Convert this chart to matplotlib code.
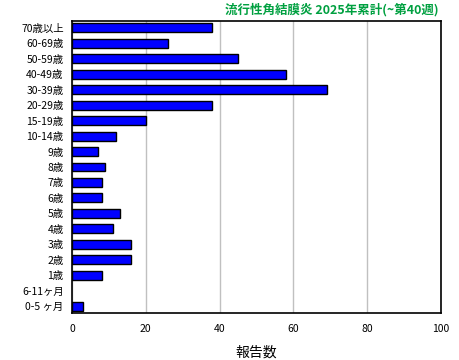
import matplotlib
matplotlib.use('Agg')
import matplotlib.pyplot as plt

plt.rcParams['font.family'] = ['Noto Sans CJK JP', 'DejaVu Sans']

ages = ['70歳以上', '60-69歳', '50-59歳', '40-49歳', '30-39歳', '20-29歳',
        '15-19歳', '10-14歳', '9歳', '8歳', '7歳', '6歳', '5歳', '4歳',
        '3歳', '2歳', '1歳', '6-11ヶ月', '0-5 ヶ月']
counts = [38, 26, 45, 58, 69, 38, 20, 12, 7, 9, 8, 8, 13, 11, 16, 16, 8, 0, 3]

# data top-down, plot bottom-up
ypos = list(range(len(ages)))[::-1]

fig = plt.figure(figsize=(4.6, 3.6), dpi=100)
ax = fig.add_axes([72/460, 1 - 313/360, (441-72)/460, (313-21)/360])

# zero counts get no bar (avoid stray edge line)
yb = [y for y, c in zip(ypos, counts) if c > 0]
cb = [c for c in counts if c > 0]
ax.barh(yb, cb, height=0.58, color='#0000FF', edgecolor='black', linewidth=1, zorder=3)
ax.set_xlim(0, 100)
ax.set_ylim(-0.45, len(ages) - 0.55)
ax.set_xticks([0, 20, 40, 60, 80, 100])
ax.set_yticks(ypos)
ax.set_yticklabels(ages)
ax.tick_params(length=0, labelsize=7.5, pad=6)
ax.tick_params(axis='x', pad=8)
ax.grid(axis='x', color='#c0c0c0', linewidth=1, zorder=0)
for s in ax.spines.values():
    s.set_linewidth(1.2)

ax.set_xlabel('報告数', fontsize=10, labelpad=8)
fig.text(439/460, 1 - 10/360, '流行性角結膜炎 2025年累計(~第40週)', color='#00A040',
         fontsize=9, fontweight='bold', ha='right', va='center')

fig.savefig('out.png', dpi=100)
